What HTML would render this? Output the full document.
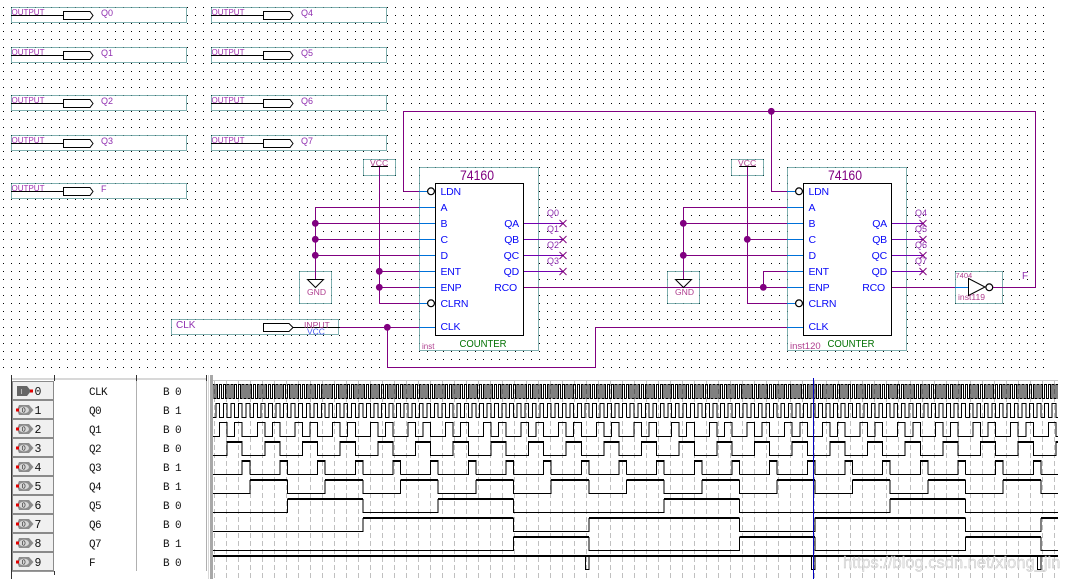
<!DOCTYPE html>
<html><head><meta charset="utf-8"><style>
html,body{margin:0;padding:0;background:#fff;width:1065px;height:579px;overflow:hidden}
svg{display:block;position:absolute;left:0;top:0}
text{font-family:"Liberation Sans",sans-serif}
.box{fill:#fff;stroke:#006060;stroke-width:1;stroke-dasharray:1 1;shape-rendering:crispEdges}
.w{fill:none;stroke:#800080;stroke-width:1;shape-rendering:crispEdges}
.b{fill:none;stroke:#0070d8;stroke-width:1;shape-rendering:crispEdges}
.k{fill:none;stroke:#000;stroke-width:1}
.pin{fill:#fff;stroke:#000;stroke-width:1.2}
.j{fill:#800080}
.o{font-size:8.6px;fill:#a030b0}
.q{font-size:9px;fill:#9030b0}
.pn{font-size:10.5px;fill:#0808f8;letter-spacing:-.2px}
.t{font-size:14px;fill:#800080}
.cn{font-size:10.5px;fill:#007000}
.pk{font-size:8.6px;fill:#b04090}
.m{font-family:"Liberation Mono",monospace;font-size:11px;fill:#111;letter-spacing:-.6px}
.n{font-family:"Liberation Mono",monospace;font-size:11.5px;fill:#111}
.wv{fill:none;stroke:#000;stroke-width:1;shape-rendering:crispEdges}
.th{fill:none;stroke:#000;stroke-width:2;shape-rendering:crispEdges}
.btn{fill:#f0f0f0;stroke:#8a8a8a;stroke-width:1;shape-rendering:crispEdges}
.ic{fill:#8c8c8c}
</style></head><body>
<svg width="1065" height="579" viewBox="0 0 1065 579" xmlns="http://www.w3.org/2000/svg">
<defs>
<pattern id="dots" x="0" y="0" width="8" height="8" patternUnits="userSpaceOnUse"><rect x="3" y="7" width="1" height="1" fill="#000"/></pattern>
<clipPath id="wc"><rect x="213" y="381" width="845" height="198"/></clipPath>
<g id="outp">
<rect class="box" x="11.5" y="7.5" width="175" height="15"/>
<path class="k" d="M11 15.5H63"/>
<path class="pin" d="M63.5 11.5H90L93 15.5L90 19.5H63.5Z" style="stroke-width:1"/>
<text class="o" x="11.5" y="15" textLength="33" lengthAdjust="spacingAndGlyphs">OUTPUT</text>
</g>
<g id="dec">
<path class="wv" d="M0 398.5V384.5h1.88V398.5h1.887V384.5h1.88V398.5h1.887V384.5h1.88V398.5h1.887V384.5h1.88V398.5h1.887V384.5h1.88V398.5h1.887V384.5h1.88V398.5h1.887V384.5h1.88V398.5h1.887V384.5h1.88V398.5h1.887V384.5h1.88V398.5h1.887V384.5h1.88V398.5h1.887"/>
<path class="wv" d="M0 417.5H3.77V403.5H7.53V417.5H11.3V403.5H15.07V417.5H18.84V403.5H22.6V417.5H26.37V403.5H30.14V417.5H33.9V403.5H37.67V417.5"/>
<path class="wv" d="M0 436.5H7.53V422.5H15.07V436.5H22.6V422.5H30.14V436.5H37.67"/>
<path class="wv" d="M0 455.5H15.07V441.5H30.14V455.5H37.67"/>
<path class="th" d="M15.07 442H30.14"/>
<path class="wv" d="M0 474.5H30.14V460.5H37.67V474.5"/>
<path class="th" d="M30.14 461H37.67"/>
</g>
<g id="icon"><path class="ic" d="M19 -5H29L33.5 0L29 5H19L17 0Z"/><ellipse cx="24" cy="0" rx="5" ry="3.4" fill="#d8d8d8"/><text x="21.8" y="2.6" style="font-size:7px;fill:#222">0</text><rect x="16" y="-1.5" width="3" height="3" fill="#e00000"/></g>
</defs>

<rect x="0" y="0" width="1045" height="368" fill="url(#dots)"/>

<use href="#outp"/><use href="#outp" y="40"/><use href="#outp" y="88"/><use href="#outp" y="128"/><use href="#outp" y="176"/>
<use href="#outp" x="200"/><use href="#outp" x="200" y="40"/><use href="#outp" x="200" y="88"/><use href="#outp" x="200" y="128"/>
<g>
<text class="q" x="101" y="16">Q0</text><text class="q" x="101" y="56">Q1</text><text class="q" x="101" y="104">Q2</text><text class="q" x="101" y="144">Q3</text><text class="q" x="101" y="192">F</text>
<text class="q" x="301" y="16">Q4</text><text class="q" x="301" y="56">Q5</text><text class="q" x="301" y="104">Q6</text><text class="q" x="301" y="144">Q7</text>
</g>

<!-- frames -->
<rect class="box" x="419.5" y="167.5" width="119" height="183"/>
<rect class="box" x="787.5" y="167.5" width="119" height="183"/>
<rect class="box" x="363.5" y="159.5" width="32" height="16"/>
<rect class="box" x="731.5" y="159.5" width="32" height="16"/>
<rect class="box" x="299.5" y="271.5" width="32" height="32"/>
<rect class="box" x="667.5" y="271.5" width="32" height="32"/>
<rect class="box" x="955.5" y="271.5" width="47" height="32"/>
<rect class="box" x="171.5" y="319.5" width="167" height="15"/>

<!-- wires -->
<path class="w" d="M403.5 191.5V111.5H1035.5V287.5H993"/>
<path class="w" d="M403.5 191.5H419"/>
<path class="w" d="M771.5 111.5V191.5H787"/>
<path class="w" d="M315.5 280V207.5H419M315.5 223.5H419M315.5 239.5H419M315.5 255.5H419"/>
<path class="w" d="M379.5 167V303.5H419M379.5 271.5H419M379.5 287.5H419"/>
<path class="w" d="M340 327.5H419M387.5 327.5V367.5H595.5V327.5H787"/>
<path class="k" d="M293 327.5H340"/>
<path class="w" d="M683.5 280V207.5H787M683.5 223.5H787M683.5 255.5H787"/>
<path class="w" d="M747.5 167V303.5H787M747.5 239.5H787"/>
<path class="w" d="M763.5 287.5V271.5H787"/>
<path class="w" d="M523 287.5H787"/>
<path class="w" d="M891 287.5H955"/>
<path class="b" d="M955 287.5H968"/>
<path class="b" d="M419 191.5H427M419 207.5H436M419 223.5H436M419 239.5H436M419 255.5H436M419 271.5H436M419 287.5H436M419 303.5H427M419 327.5H436"/>
<path class="b" d="M787 191.5H795M787 207.5H804M787 223.5H804M787 239.5H804M787 255.5H804M787 271.5H804M787 287.5H804M787 303.5H795M787 327.5H804"/>
<path d="M523 223.5H563M523 239.5H563M523 255.5H563M523 271.5H563M891 223.5H923M891 239.5H923M891 255.5H923M891 271.5H923" fill="none" stroke="#7000b0" shape-rendering="crispEdges"/>
<path d="M559.5 220L566.5 227M566.5 220L559.5 227M559.5 236L566.5 243M566.5 236L559.5 243M559.5 252L566.5 259M566.5 252L559.5 259M559.5 268L566.5 275M566.5 268L559.5 275M919.5 220L926.5 227M926.5 220L919.5 227M919.5 236L926.5 243M926.5 236L919.5 243M919.5 252L926.5 259M926.5 252L919.5 259M919.5 268L926.5 275M926.5 268L919.5 275" stroke="#800080" fill="none"/>

<!-- junctions -->
<g class="j">
<circle cx="315.3" cy="223.3" r="3.4"/><circle cx="315.3" cy="239.3" r="3.4"/><circle cx="315.3" cy="255.3" r="3.4"/>
<circle cx="379.3" cy="271.3" r="3.4"/><circle cx="379.3" cy="287.3" r="3.4"/><circle cx="387.3" cy="327.3" r="3.4"/>
<circle cx="683.3" cy="223.3" r="3.4"/><circle cx="683.3" cy="255.3" r="3.4"/><circle cx="747.3" cy="239.3" r="3.4"/>
<circle cx="763.3" cy="287.3" r="3.4"/><circle cx="771.3" cy="111.3" r="3.4"/>
</g>

<!-- chips -->
<rect x="435.5" y="183.5" width="88" height="152" fill="#fff" stroke="#000"/>
<rect x="803.5" y="183.5" width="88" height="152" fill="#fff" stroke="#000"/>
<circle class="pin" cx="431" cy="191.3" r="3.4"/><circle class="pin" cx="431" cy="303.3" r="3.4"/>
<circle class="pin" cx="799" cy="191.3" r="3.4"/><circle class="pin" cx="799" cy="303.3" r="3.4"/>

<text class="t" x="460" y="180" textLength="34" lengthAdjust="spacingAndGlyphs">74160</text><text class="t" x="828" y="180" textLength="34" lengthAdjust="spacingAndGlyphs">74160</text>
<g>
<text class="pn" x="440.5" y="195">LDN</text><text class="pn" x="440.5" y="211">A</text><text class="pn" x="440.5" y="227">B</text><text class="pn" x="440.5" y="243">C</text><text class="pn" x="440.5" y="259">D</text><text class="pn" x="440.5" y="275">ENT</text><text class="pn" x="440.5" y="291">ENP</text><text class="pn" x="440.5" y="307">CLRN</text><text class="pn" x="440.5" y="330">CLK</text>
<text class="pn" x="519" y="227" text-anchor="end">QA</text><text class="pn" x="519" y="243" text-anchor="end">QB</text><text class="pn" x="519" y="259" text-anchor="end">QC</text><text class="pn" x="519" y="275" text-anchor="end">QD</text><text class="pn" x="517" y="291" text-anchor="end">RCO</text>
<text class="pn" x="808.5" y="195">LDN</text><text class="pn" x="808.5" y="211">A</text><text class="pn" x="808.5" y="227">B</text><text class="pn" x="808.5" y="243">C</text><text class="pn" x="808.5" y="259">D</text><text class="pn" x="808.5" y="275">ENT</text><text class="pn" x="808.5" y="291">ENP</text><text class="pn" x="808.5" y="307">CLRN</text><text class="pn" x="808.5" y="330">CLK</text>
<text class="pn" x="887" y="227" text-anchor="end">QA</text><text class="pn" x="887" y="243" text-anchor="end">QB</text><text class="pn" x="887" y="259" text-anchor="end">QC</text><text class="pn" x="887" y="275" text-anchor="end">QD</text><text class="pn" x="885" y="291" text-anchor="end">RCO</text>
</g>
<text class="cn" x="459.5" y="347" textLength="47" lengthAdjust="spacingAndGlyphs">COUNTER</text><text class="cn" x="827.5" y="347" textLength="47" lengthAdjust="spacingAndGlyphs">COUNTER</text>
<text class="pk" x="422" y="349" style="font-size:8px">inst</text>
<text class="pk" x="790" y="349" style="font-size:9.5px">inst120</text>

<g>
<text class="q" x="547" y="216">Q0</text><text class="q" x="547" y="232">Q1</text><text class="q" x="547" y="248">Q2</text><text class="q" x="547" y="264">Q3</text>
<text class="q" x="915" y="216">Q4</text><text class="q" x="915" y="232">Q5</text><text class="q" x="915" y="248">Q6</text><text class="q" x="915" y="264">Q7</text>
</g>

<!-- VCC / GND -->
<path class="k" d="M371 166.5H388M739 166.5H756"/>
<path class="w" d="M379.5 167V175M747.5 167V175"/>
<text class="pk" x="370" y="166">VCC</text><text class="pk" x="738" y="166">VCC</text>
<path d="M307.5 279.5H323.5L315.5 287.5Z" fill="#fff" stroke="#000"/>
<path d="M675.5 279.5H691.5L683.5 287.5Z" fill="#fff" stroke="#000"/>
<text class="pk" x="307" y="295">GND</text><text class="pk" x="675" y="295">GND</text>

<!-- NOT gate -->
<path d="M968.5 278.5V295.5L985 287Z" fill="#fff" stroke="#000"/>
<circle class="pin" cx="989.3" cy="287.3" r="3.4"/>
<path class="w" d="M993 287.5H1003"/>
<text class="pk" x="955.5" y="278" style="font-size:7.5px">7404</text>
<text class="pk" x="958" y="300">inst119</text>
<text class="q" x="1022" y="279" style="font-size:10px">F</text>

<!-- CLK input -->
<path class="k" d="M263.5 323.5H289L293 327.5L289 331.5H263.5Z"/>
<text class="q" x="176" y="328" style="font-size:10px">CLK</text>
<text class="pk" x="304" y="328">INPUT</text>
<text x="307" y="334.5" style="font-size:8.5px;fill:#4a5af0">VCC</text>

<!-- table -->
<rect x="11" y="378" width="196" height="2" fill="#d8d8d8"/>
<path d="M11.5 375V579M54.5 375V381M136.5 375V381M206.5 375V381" stroke="#333" fill="none" shape-rendering="crispEdges"/>
<path d="M136.5 381V571M206.5 381V571" stroke="#b0b0b0" fill="none" shape-rendering="crispEdges"/>
<path d="M54.5 571V575M11.5 571H54" stroke="#333" fill="none" shape-rendering="crispEdges"/>
<rect x="208" y="375" width="1" height="204" fill="#d8d8d8"/>
<rect x="210" y="375" width="3" height="204" fill="#a8a8a8"/>

<g>
<rect class="btn" x="12.5" y="381.5" width="41" height="18"/><rect class="btn" x="12.5" y="400.5" width="41" height="18"/><rect class="btn" x="12.5" y="419.5" width="41" height="18"/><rect class="btn" x="12.5" y="438.5" width="41" height="18"/><rect class="btn" x="12.5" y="457.5" width="41" height="18"/><rect class="btn" x="12.5" y="476.5" width="41" height="18"/><rect class="btn" x="12.5" y="495.5" width="41" height="18"/><rect class="btn" x="12.5" y="514.5" width="41" height="18"/><rect class="btn" x="12.5" y="533.5" width="41" height="18"/><rect class="btn" x="12.5" y="552.5" width="41" height="18"/>
</g>
<path d="M17 386H27L31 391L27 396H17Z" fill="#666"/><rect x="30" y="389.5" width="3" height="3" fill="#e00000"/><text x="20.5" y="394" style="font-size:7px;fill:#ddd">I</text>
<use href="#icon" y="410"/><use href="#icon" y="429"/><use href="#icon" y="448"/><use href="#icon" y="467"/><use href="#icon" y="486"/><use href="#icon" y="505"/><use href="#icon" y="524"/><use href="#icon" y="543"/><use href="#icon" y="562"/>
<g>
<text class="n" x="34.5" y="395">0</text><text class="n" x="34.5" y="414">1</text><text class="n" x="34.5" y="433">2</text><text class="n" x="34.5" y="452">3</text><text class="n" x="34.5" y="471">4</text><text class="n" x="34.5" y="490">5</text><text class="n" x="34.5" y="509">6</text><text class="n" x="34.5" y="528">7</text><text class="n" x="34.5" y="547">8</text><text class="n" x="34.5" y="566">9</text>
<text class="m" x="89" y="395">CLK</text><text class="m" x="89" y="414">Q0</text><text class="m" x="89" y="433">Q1</text><text class="m" x="89" y="452">Q2</text><text class="m" x="89" y="471">Q3</text><text class="m" x="89" y="490">Q4</text><text class="m" x="89" y="509">Q5</text><text class="m" x="89" y="528">Q6</text><text class="m" x="89" y="547">Q7</text><text class="m" x="89" y="566">F</text>
<text class="m" x="163" y="395">B 0</text><text class="m" x="163" y="414">B 1</text><text class="m" x="163" y="433">B 0</text><text class="m" x="163" y="452">B 0</text><text class="m" x="163" y="471">B 1</text><text class="m" x="163" y="490">B 1</text><text class="m" x="163" y="509">B 0</text><text class="m" x="163" y="528">B 0</text><text class="m" x="163" y="547">B 1</text><text class="m" x="163" y="566">B 0</text>
</g>

<!-- wave panel -->
<rect x="213" y="380" width="845" height="1" fill="#c8c8c8"/>
<path d="M214.5 381V579M226.5 381V579M238.5 381V579M250.5 381V579M262.5 381V579M274.5 381V579M286.5 381V579M298.5 381V579M310.5 381V579M322.5 381V579M334.5 381V579M346.5 381V579M358.5 381V579M370.5 381V579M382.5 381V579M394.5 381V579M406.5 381V579M418.5 381V579M430.5 381V579M442.5 381V579M454.5 381V579M466.5 381V579M478.5 381V579M490.5 381V579M502.5 381V579M514.5 381V579M526.5 381V579M538.5 381V579M550.5 381V579M562.5 381V579M574.5 381V579M586.5 381V579M598.5 381V579M610.5 381V579M622.5 381V579M634.5 381V579M646.5 381V579M658.5 381V579M670.5 381V579M682.5 381V579M694.5 381V579M706.5 381V579M718.5 381V579M730.5 381V579M742.5 381V579M754.5 381V579M766.5 381V579M778.5 381V579M790.5 381V579M802.5 381V579M814.5 381V579M826.5 381V579M838.5 381V579M850.5 381V579M862.5 381V579M874.5 381V579M886.5 381V579M898.5 381V579M910.5 381V579M922.5 381V579M934.5 381V579M946.5 381V579M958.5 381V579M970.5 381V579M982.5 381V579M994.5 381V579M1006.5 381V579M1018.5 381V579M1030.5 381V579M1042.5 381V579M1054.5 381V579" stroke="#c0c0c0" stroke-dasharray="5 3" fill="none" shape-rendering="crispEdges"/>

<g clip-path="url(#wc)">
<g transform="translate(212.1 0)">
<use href="#dec" x="0"/><use href="#dec" x="37.67"/><use href="#dec" x="75.34"/><use href="#dec" x="113.01"/><use href="#dec" x="150.68"/><use href="#dec" x="188.35"/><use href="#dec" x="226.02"/><use href="#dec" x="263.69"/><use href="#dec" x="301.36"/><use href="#dec" x="339.03"/><use href="#dec" x="376.7"/><use href="#dec" x="414.37"/><use href="#dec" x="452.04"/><use href="#dec" x="489.71"/><use href="#dec" x="527.38"/><use href="#dec" x="565.05"/><use href="#dec" x="602.72"/><use href="#dec" x="640.39"/><use href="#dec" x="678.06"/><use href="#dec" x="715.73"/><use href="#dec" x="753.4"/><use href="#dec" x="791.07"/><use href="#dec" x="828.74"/>
</g>
<!-- Q4 -->
<path class="wv" d="M213 493.5H249.8V480.5H287.4V493.5H325.1V480.5H362.8V493.5H400.5V480.5H438.1V493.5H475.8V480.5H513.5V493.5H551.1V480.5H588.8V493.5H626.5V480.5H664.1V493.5H701.8V480.5H739.5V493.5H777.1V480.5H814.8V493.5H852.5V480.5H890.2V493.5H927.8V480.5H965.5V493.5H1003.2V480.5H1040.8V493.5H1058"/>
<path class="th" d="M249.8 480H287.4M325.1 480H362.8M400.5 480H438.1M475.8 480H513.5M551.1 480H588.8M626.5 480H664.1M701.8 480H739.5M777.1 480H814.8M852.5 480H890.2M927.8 480H965.5M1003.2 480H1040.8"/>
<!-- Q5 -->
<path class="wv" d="M213 512.5H287.4V499.5H362.8V512.5H438.1V499.5H513.5V512.5H664.1V499.5H739.5V512.5H890.2V499.5H965.5V512.5H1058"/>
<path class="th" d="M287.4 499H362.8M438.1 499H513.5M664.1 499H739.5M890.2 499H965.5"/>
<!-- Q6 -->
<path class="wv" d="M213 531.5H362.8V518.5H513.5V531.5H588.8V518.5H739.5V531.5H814.8V518.5H965.5V531.5H1040.8V518.5H1058"/>
<path class="th" d="M362.8 518H513.5M588.8 518H739.5M814.8 518H965.5M1040.8 518H1058"/>
<!-- Q7 -->
<path class="wv" d="M213 550.5H513.5V537.5H588.8V550.5H739.5V537.5H814.8V550.5H965.5V537.5H1040.8V550.5H1058"/>
<path class="th" d="M513.5 537H588.8M739.5 537H814.8M965.5 537H1040.8"/>
<!-- F -->
<path class="wv" d="M585.5 556V569.5H589V556M811.5 556V569.5H815V556M1037.5 556V569.5H1041V556"/>
<path class="th" d="M213 556H1058"/>
</g>
<rect x="813" y="378" width="1" height="201" fill="#0000c0"/>

<text x="843" y="568" style="font-size:16.5px;fill:#e8e8e8;stroke:#b8b8b8;stroke-width:.4;opacity:.85">https://blog.csdn.net/xiong_jin</text>
</svg>
</body></html>
